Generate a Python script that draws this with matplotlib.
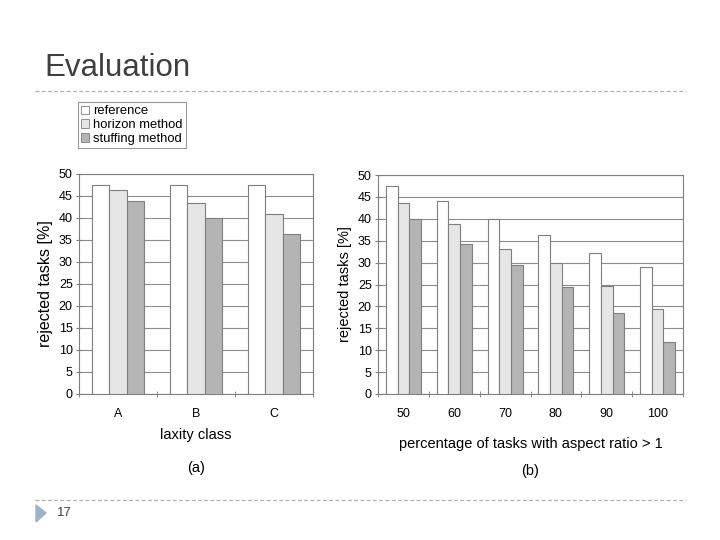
import matplotlib
matplotlib.use("Agg")
import matplotlib.pyplot as plt
import numpy as np
from matplotlib.patches import Patch, Polygon
from matplotlib.lines import Line2D

plt.rcParams['font.family'] = ['Liberation Sans', 'DejaVu Sans']

series_names = ["reference", "horizon method", "stuffing method"]
series_colors = ["#ffffff", "#e6e6e6", "#b4b4b4"]

cats_a = ["A", "B", "C"]
ref_a = [47.5, 47.5, 47.5]
hor_a = [46.3, 43.5, 40.8]
stf_a = [43.9, 39.9, 36.3]

cats_b = ["50", "60", "70", "80", "90", "100"]
ref_b = [47.4, 44.0, 39.9, 36.4, 32.1, 28.9]
hor_b = [43.5, 38.9, 33.0, 30.0, 24.6, 19.5]
stf_b = [40.0, 34.2, 29.5, 24.4, 18.6, 11.8]

yticks = list(range(0, 55, 5))

fig = plt.figure(figsize=(7.2, 5.4), dpi=100)

# Title
fig.text(44/720, 1-68/540, "Evaluation", fontsize=22.5, color="#3f3f3f",
         ha="left", va="center")
# dashed separators
for y in (91, 500):
    fig.add_artist(Line2D([35/720, 686/720], [1-y/540, 1-y/540],
                          color="#b0b0b0", lw=0.9, ls=(0, (3, 2))))
# slide number
fig.add_artist(Polygon([[36/720, 1-505/540], [46/720, 1-513/540], [36/720, 1-522/540]],
                       closed=True, color="#9fb3c8", transform=fig.transFigure))
fig.text(57/720, 1-513/540, "17", fontsize=9.5, color="#404040", ha="left", va="center")


def draw(ax, cats, vals, width, ylabel, xlabel, sub, ylabfs, xlpad, suby):
    n = len(cats)
    x = np.arange(n)
    for i, (v, c) in enumerate(zip(vals, series_colors)):
        ax.bar(x + (i - 1) * width, v, width, color=c, edgecolor="#7f7f7f",
               linewidth=0.8, zorder=3)
    ax.set_xlim(-0.5, n - 0.5)
    ax.set_ylim(0, 50)
    ax.set_yticks(yticks)
    ax.yaxis.grid(True, color="#8c8c8c", lw=0.8, zorder=0)
    ax.set_axisbelow(True)
    ax.set_xticks(x)
    ax.set_xticklabels(cats, fontsize=9)
    ax.tick_params(axis="x", length=0, pad=10)
    ax.set_xticks(np.arange(n + 1) - 0.5, minor=True)
    ax.tick_params(axis="x", which="minor", length=5, color="#7f7f7f", direction="inout")
    ax.tick_params(axis="y", labelsize=9, length=5, color="#7f7f7f", pad=2,
                   direction="inout")
    for s in ax.spines.values():
        s.set_color("#7f7f7f")
        s.set_linewidth(0.8)
    ax.set_ylabel(ylabel, fontsize=ylabfs, labelpad=4)
    ax.set_xlabel(xlabel, fontsize=10.5, labelpad=xlpad)
    ax.text(0.5, suby, sub, transform=ax.transAxes, ha="center", va="center",
            fontsize=10.5)


ax1 = fig.add_axes([79/720, 1-394/540, 234/720, 220/540])
draw(ax1, cats_a, [ref_a, hor_a, stf_a], 0.22, "rejected tasks [%]", "laxity class",
     "(a)", 11.5, 6, -(468-394)/220)

ax2 = fig.add_axes([378/720, 1-394/540, 305/720, 219/540])
draw(ax2, cats_b, [ref_b, hor_b, stf_b], 0.23, "rejected tasks [%]",
     "percentage of tasks with aspect ratio > 1", "(b)", 10.5, 12, -(471-394)/219)

handles = [Patch(facecolor=c, edgecolor="#7f7f7f", lw=0.6) for c in series_colors]
leg = fig.legend(handles, series_names, loc="upper left",
                 bbox_to_anchor=(78/720, 1-102/540), fontsize=9.4,
                 handlelength=0.6, handleheight=0.6, handletextpad=0.3,
                 labelspacing=0.15, borderpad=0.25, borderaxespad=0,
                 fancybox=False, frameon=True)
leg.get_frame().set_edgecolor("#7f7f7f")
leg.get_frame().set_linewidth(0.8)

fig.savefig("out.png", dpi=100)
